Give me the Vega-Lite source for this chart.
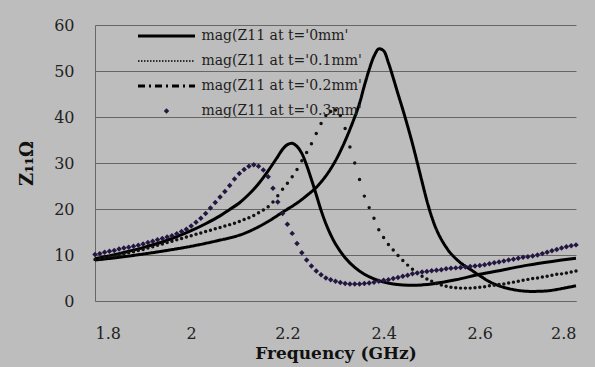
{
  "$schema": "https://vega.github.io/schema/vega-lite/v6.json",
  "width": 481,
  "height": 276,
  "autosize": {"type": "none"},
  "padding": {"left": 95, "top": 25, "right": 19, "bottom": 66},
  "background": "#bdbdbd",
  "config": {"view": {"stroke": null}, "font": "DejaVu Serif"},
  "datasets": {
    "A": [
      {"f":1.8,"z":8.9},{"f":1.85,"z":9.5},{"f":1.9,"z":10.2},{"f":1.95,"z":11.0},{"f":2.0,"z":11.9},{"f":2.05,"z":13.0},{"f":2.1,"z":14.3},{"f":2.13,"z":15.6},{"f":2.16,"z":17.3},{"f":2.19,"z":19.3},{"f":2.22,"z":21.3},{"f":2.24,"z":22.9},{"f":2.26,"z":24.7},{"f":2.28,"z":27.2},{"f":2.3,"z":30.5},{"f":2.32,"z":34.8},{"f":2.34,"z":40.0},{"f":2.35,"z":43.0},{"f":2.36,"z":46.8},{"f":2.37,"z":50.3},{"f":2.38,"z":53.2},{"f":2.39,"z":54.8},{"f":2.4,"z":54.4},{"f":2.41,"z":51.8},{"f":2.42,"z":48.5},{"f":2.43,"z":45.0},{"f":2.44,"z":41.6},{"f":2.45,"z":38.0},{"f":2.46,"z":34.2},{"f":2.47,"z":30.1},{"f":2.48,"z":25.9},{"f":2.49,"z":21.8},{"f":2.5,"z":18.3},{"f":2.51,"z":15.5},{"f":2.52,"z":13.4},{"f":2.53,"z":11.7},{"f":2.54,"z":10.3},{"f":2.56,"z":8.3},{"f":2.58,"z":6.9},{"f":2.6,"z":5.5},{"f":2.62,"z":4.2},{"f":2.64,"z":3.3},{"f":2.66,"z":2.7},{"f":2.68,"z":2.3},{"f":2.7,"z":2.1},{"f":2.72,"z":2.1},{"f":2.74,"z":2.2},{"f":2.76,"z":2.5},{"f":2.78,"z":2.9},{"f":2.8,"z":3.3}
    ],
    "C": [
      {"f":1.8,"z":9.2},{"f":1.85,"z":10.3},{"f":1.9,"z":11.6},{"f":1.95,"z":13.2},{"f":2.0,"z":15.3},{"f":2.03,"z":16.8},{"f":2.06,"z":18.5},{"f":2.08,"z":19.9},{"f":2.1,"z":21.3},{"f":2.12,"z":23.2},{"f":2.14,"z":25.5},{"f":2.16,"z":28.3},{"f":2.18,"z":31.4},{"f":2.19,"z":33.0},{"f":2.2,"z":34.0},{"f":2.21,"z":34.3},{"f":2.22,"z":33.6},{"f":2.23,"z":32.1},{"f":2.24,"z":29.5},{"f":2.25,"z":26.4},{"f":2.26,"z":23.1},{"f":2.27,"z":19.7},{"f":2.28,"z":16.8},{"f":2.29,"z":14.4},{"f":2.3,"z":12.4},{"f":2.32,"z":9.4},{"f":2.34,"z":7.3},{"f":2.36,"z":5.8},{"f":2.38,"z":4.8},{"f":2.4,"z":4.1},{"f":2.42,"z":3.7},{"f":2.44,"z":3.5},{"f":2.46,"z":3.4},{"f":2.48,"z":3.5},{"f":2.5,"z":3.7},{"f":2.55,"z":4.6},{"f":2.6,"z":5.8},{"f":2.65,"z":6.8},{"f":2.7,"z":7.8},{"f":2.75,"z":8.6},{"f":2.8,"z":9.3}
    ],
    "B": [
      {"f":1.8,"z":9.0},{"f":1.81,"z":9.2},{"f":1.82,"z":9.4},{"f":1.83,"z":9.6},{"f":1.84,"z":9.8},{"f":1.85,"z":10.0},{"f":1.86,"z":10.2},{"f":1.87,"z":10.5},{"f":1.88,"z":10.7},{"f":1.89,"z":11.0},{"f":1.9,"z":11.2},{"f":1.91,"z":11.5},{"f":1.92,"z":11.8},{"f":1.93,"z":12.1},{"f":1.94,"z":12.4},{"f":1.95,"z":12.7},{"f":1.96,"z":13.0},{"f":1.97,"z":13.3},{"f":1.98,"z":13.6},{"f":1.99,"z":13.9},{"f":2.0,"z":14.2},{"f":2.01,"z":14.5},{"f":2.02,"z":14.8},{"f":2.03,"z":15.1},{"f":2.04,"z":15.4},{"f":2.05,"z":15.7},{"f":2.06,"z":16.0},{"f":2.07,"z":16.3},{"f":2.08,"z":16.6},{"f":2.09,"z":16.9},{"f":2.1,"z":17.3},{"f":2.11,"z":17.7},{"f":2.12,"z":18.1},{"f":2.13,"z":18.6},{"f":2.14,"z":19.2},{"f":2.15,"z":19.8},{"f":2.16,"z":20.5},{"f":2.17,"z":21.5},{"f":2.18,"z":22.9},{"f":2.19,"z":24.3},{"f":2.2,"z":25.6},{"f":2.21,"z":27.0},{"f":2.22,"z":28.6},{"f":2.23,"z":30.5},{"f":2.24,"z":32.3},{"f":2.25,"z":34.2},{"f":2.26,"z":36.4},{"f":2.27,"z":38.6},{"f":2.28,"z":40.3},{"f":2.29,"z":41.2},{"f":2.3,"z":41.5},{"f":2.31,"z":40.3},{"f":2.32,"z":37.5},{"f":2.33,"z":33.5},{"f":2.34,"z":30.0},{"f":2.35,"z":26.4},{"f":2.36,"z":22.8},{"f":2.37,"z":20.3},{"f":2.38,"z":18.0},{"f":2.39,"z":15.5},{"f":2.4,"z":13.8},{"f":2.41,"z":12.3},{"f":2.42,"z":11.1},{"f":2.43,"z":9.9},{"f":2.44,"z":8.8},{"f":2.45,"z":7.8},{"f":2.46,"z":6.9},{"f":2.47,"z":6.1},{"f":2.48,"z":5.4},{"f":2.49,"z":4.8},{"f":2.5,"z":4.3},{"f":2.51,"z":3.8},{"f":2.52,"z":3.5},{"f":2.53,"z":3.2},{"f":2.54,"z":3.0},{"f":2.55,"z":2.9},{"f":2.56,"z":2.8},{"f":2.57,"z":2.8},{"f":2.58,"z":2.8},{"f":2.59,"z":2.9},{"f":2.6,"z":3.0},{"f":2.61,"z":3.1},{"f":2.62,"z":3.3},{"f":2.63,"z":3.4},{"f":2.64,"z":3.6},{"f":2.65,"z":3.7},{"f":2.66,"z":3.9},{"f":2.67,"z":4.1},{"f":2.68,"z":4.3},{"f":2.69,"z":4.5},{"f":2.7,"z":4.7},{"f":2.71,"z":4.9},{"f":2.72,"z":5.0},{"f":2.73,"z":5.2},{"f":2.74,"z":5.4},{"f":2.75,"z":5.6},{"f":2.76,"z":5.8},{"f":2.77,"z":5.9},{"f":2.78,"z":6.1},{"f":2.79,"z":6.3},{"f":2.8,"z":6.5}
    ],
    "D": [
      {"f":1.8,"z":10.1},{"f":1.81,"z":10.3},{"f":1.82,"z":10.6},{"f":1.83,"z":10.8},{"f":1.84,"z":11.0},{"f":1.85,"z":11.3},{"f":1.86,"z":11.5},{"f":1.87,"z":11.7},{"f":1.88,"z":11.9},{"f":1.89,"z":12.1},{"f":1.9,"z":12.4},{"f":1.91,"z":12.7},{"f":1.92,"z":13.0},{"f":1.93,"z":13.3},{"f":1.94,"z":13.6},{"f":1.95,"z":13.9},{"f":1.96,"z":14.2},{"f":1.97,"z":14.6},{"f":1.98,"z":15.1},{"f":1.99,"z":15.6},{"f":2.0,"z":16.3},{"f":2.01,"z":17.1},{"f":2.02,"z":18.0},{"f":2.03,"z":19.0},{"f":2.04,"z":20.2},{"f":2.05,"z":21.4},{"f":2.06,"z":22.6},{"f":2.07,"z":23.8},{"f":2.08,"z":25.1},{"f":2.09,"z":26.5},{"f":2.1,"z":27.7},{"f":2.11,"z":28.6},{"f":2.12,"z":29.3},{"f":2.13,"z":29.6},{"f":2.14,"z":29.3},{"f":2.15,"z":28.5},{"f":2.16,"z":27.0},{"f":2.17,"z":24.5},{"f":2.18,"z":21.5},{"f":2.19,"z":19.0},{"f":2.2,"z":16.7},{"f":2.21,"z":14.7},{"f":2.22,"z":12.5},{"f":2.23,"z":10.5},{"f":2.24,"z":8.9},{"f":2.25,"z":7.6},{"f":2.26,"z":6.5},{"f":2.27,"z":5.7},{"f":2.28,"z":5.0},{"f":2.29,"z":4.6},{"f":2.3,"z":4.3},{"f":2.31,"z":4.0},{"f":2.32,"z":3.8},{"f":2.33,"z":3.7},{"f":2.34,"z":3.7},{"f":2.35,"z":3.7},{"f":2.36,"z":3.8},{"f":2.37,"z":3.9},{"f":2.38,"z":4.1},{"f":2.39,"z":4.3},{"f":2.4,"z":4.5},{"f":2.41,"z":4.6},{"f":2.42,"z":4.9},{"f":2.43,"z":5.1},{"f":2.44,"z":5.4},{"f":2.45,"z":5.6},{"f":2.46,"z":5.9},{"f":2.47,"z":6.1},{"f":2.48,"z":6.3},{"f":2.49,"z":6.4},{"f":2.5,"z":6.6},{"f":2.51,"z":6.7},{"f":2.52,"z":6.8},{"f":2.53,"z":7.0},{"f":2.54,"z":7.1},{"f":2.55,"z":7.2},{"f":2.56,"z":7.3},{"f":2.57,"z":7.4},{"f":2.58,"z":7.5},{"f":2.59,"z":7.6},{"f":2.6,"z":7.7},{"f":2.61,"z":7.9},{"f":2.62,"z":8.1},{"f":2.63,"z":8.3},{"f":2.64,"z":8.5},{"f":2.65,"z":8.7},{"f":2.66,"z":8.9},{"f":2.67,"z":9.1},{"f":2.68,"z":9.3},{"f":2.69,"z":9.5},{"f":2.7,"z":9.6},{"f":2.71,"z":9.8},{"f":2.72,"z":10.0},{"f":2.73,"z":10.3},{"f":2.74,"z":10.6},{"f":2.75,"z":10.9},{"f":2.76,"z":11.2},{"f":2.77,"z":11.5},{"f":2.78,"z":11.8},{"f":2.79,"z":12.0},{"f":2.8,"z":12.2}
    ]
  },
  "encoding": {
    "x": {
      "field": "f", "type": "quantitative",
      "scale": {"domain": [1.8, 2.8], "nice": false, "zero": false},
      "axis": {
        "values": [1.8, 2.0, 2.2, 2.4, 2.6, 2.8], "format": "~g",
        "grid": false, "ticks": false, "domain": true, "domainColor": "#666666", "domainWidth": 1,
        "labelFont": "DejaVu Serif", "labelFontSize": 16, "labelColor": "#222222", "labelPadding": 24,
        "title": "Frequency (GHz)", "titleFont": "DejaVu Serif", "titleFontSize": 17, "titleFontWeight": "bold",
        "titleColor": "#111111", "titleBaseline": "alphabetic", "titleY": 57
      }
    },
    "y": {
      "field": "z", "type": "quantitative",
      "scale": {"domain": [0, 60], "nice": false},
      "axis": {
        "values": [0, 10, 20, 30, 40, 50, 60],
        "grid": true, "gridColor": "#666666", "gridWidth": 1, "gridOpacity": 1,
        "ticks": false, "domain": true, "domainColor": "#666666", "domainWidth": 1,
        "labelFont": "DejaVu Serif", "labelFontSize": 16, "labelColor": "#222222", "labelPadding": 21,
        "title": "Z₁₁Ω", "titleFont": "DejaVu Serif", "titleFontSize": 18, "titleFontWeight": "bold",
        "titleColor": "#111111", "titleBaseline": "alphabetic", "titleX": -63
      }
    }
  },
  "layer": [
    {
      "data": {"name": "A"},
      "mark": {"type": "line", "color": "black", "strokeWidth": 3, "interpolate": "catmull-rom"},
      "encoding": {
        "strokeDash": {
          "datum": "mag(Z11 at t='0mm'", "type": "nominal",
          "scale": {"domain": ["mag(Z11 at t='0mm'", "mag(Z11 at t='0.1mm'", "mag(Z11 at t='0.2mm'", "mag(Z11 at t='0.3mm'"], "range": [[1, 0], [1.5, 1.5], [7, 4, 2, 4], [1, 0]]},
          "legend": {
            "title": null, "orient": "none", "legendX": 43, "legendY": 4, "padding": 0,
            "symbolType": "stroke", "symbolSize": 3249, "symbolStrokeWidth": 3, "symbolStrokeColor": "black",
            "symbolOffset": 21.5,
            "labelFont": "DejaVu Serif", "labelFontSize": 14, "labelColor": "#1e1e1e", "labelOffset": 28,
            "rowPadding": 11, "labelLimit": 300,
            "encoding": {
              "symbols": {
                "shape": {"value": {"expr": "datum.index === 3 ? 'diamond' : 'stroke'"}},
                "size": {"value": {"expr": "datum.index === 3 ? 30 : 3249"}},
                "strokeWidth": {"value": {"expr": "datum.index === 3 ? 0 : datum.index === 1 ? 1.5 : 3"}},
                "fill": {"value": {"expr": "datum.index === 3 ? '#231640' : 'transparent'"}},
                "stroke": {"value": {"expr": "datum.index === 3 ? 'transparent' : 'black'"}}
              }
            }
          }
        }
      }
    },
    {
      "data": {"name": "C"},
      "mark": {"type": "line", "color": "black", "strokeWidth": 3, "interpolate": "catmull-rom"},
      "encoding": {}
    },
    {
      "data": {"name": "B"},
      "mark": {"type": "point", "filled": true, "shape": "circle", "size": 12, "color": "#111111", "opacity": 1},
      "encoding": {}
    },
    {
      "data": {"name": "D"},
      "mark": {"type": "point", "filled": true, "shape": "diamond", "size": 30, "color": "#231640", "opacity": 1},
      "encoding": {}
    }
  ]
}
